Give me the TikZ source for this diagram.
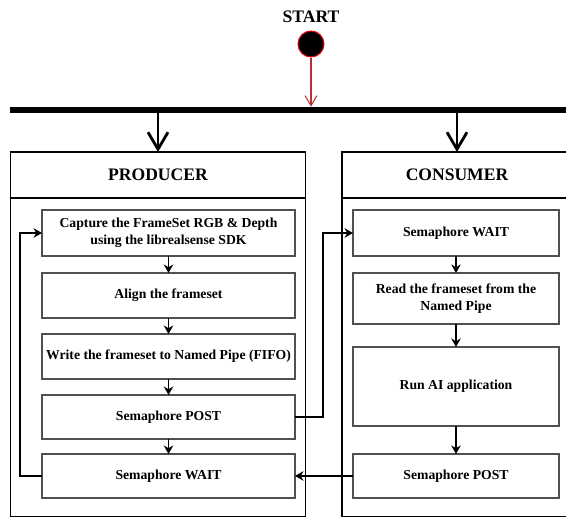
\documentclass[tikz,border=0pt]{standalone}
\usepackage{fontspec}
\setmainfont{Liberation Serif}
\usetikzlibrary{arrows.meta,positioning}
\definecolor{boxgray}{HTML}{505050}
\definecolor{startred}{HTML}{E00010}
\definecolor{arrred}{HTML}{B83030}

\begin{document}
\begin{tikzpicture}[
    x=0.02cm, y=-0.02cm,
    stepbox/.style={rectangle, draw=boxgray, line width=0.7pt, fill=white,
                    inner sep=1pt, outer sep=0pt, align=center,
                    font=\fontsize{7.8}{9.4}\selectfont\bfseries},
    pbox/.style={stepbox, minimum width=5.06cm},
    cbox/.style={stepbox, minimum width=4.12cm},
    lanehead/.style={rectangle, draw=black, line width=0.6pt, outer sep=0pt,
                     minimum height=0.92cm,
                     font=\fontsize{10}{12}\selectfont\bfseries},
    lanebody/.style={rectangle, draw=black, line width=0.6pt, outer sep=0pt},
    bar/.style={rectangle, fill=black, inner sep=0pt,
                minimum width=11.2cm, minimum height=0.12cm},
    startdot/.style={circle, fill=black, draw=startred, line width=0.6pt,
                     inner sep=0pt, minimum size=0.52cm},
    arr/.style={-{Stealth[length=1.7mm, width=1.9mm]}, line width=0.7pt, black},
    bararr/.style={-{Straight Barb[length=3.4mm, width=4mm]}, line width=1.6pt},
    startarr/.style={-{Straight Barb[length=2mm, width=2.4mm]}, line width=0.6pt, arrred}
]
\useasboundingbox (0,0) rectangle (566,518);

% start and fork bar
\node[font=\fontsize{10}{12}\selectfont\bfseries] (starttxt) at (311,17) {START};
\node[startdot] (start) at (311,44) {};
\node[bar] (bar) at (290,110) {};

% lanes
\node[lanehead, minimum width=5.92cm] (phead) at (158,175) {PRODUCER};
\node[lanebody, minimum width=5.92cm, minimum height=6.38cm, below=0pt of phead] (pbody) {};
\node[lanehead, minimum width=4.6cm] (chead) at (457,175) {CONSUMER};
\node[lanebody, minimum width=4.6cm, minimum height=6.38cm, below=0pt of chead] (cbody) {};

% producer steps
\node[pbox, minimum height=0.92cm] (capture) at (168.5,233)
    {Capture the FrameSet RGB \& Depth\\using the librealsense SDK};
\node[pbox, minimum height=0.9cm, below=0.34cm of capture] (align) {Align the frameset};
\node[pbox, minimum height=0.9cm, below=0.32cm of align] (write) {Write the frameset to Named Pipe (FIFO)};
\node[pbox, minimum height=0.88cm, below=0.32cm of write] (ppost) {Semaphore POST};
\node[pbox, minimum height=0.88cm, below=0.3cm of ppost] (pwait) {Semaphore WAIT};

% consumer steps
\node[cbox, minimum height=0.92cm] (cwait) at (456,233) {Semaphore WAIT};
\node[cbox, minimum height=1.02cm, below=0.34cm of cwait] (cread)
    {Read the frameset from the\\Named Pipe};
\node[cbox, minimum height=1.58cm, below=0.46cm of cread] (crun) {Run AI application};
\node[cbox, minimum height=0.88cm, below=0.56cm of crun] (cpost) {Semaphore POST};

\coordinate (gapx) at (323,0);
\coordinate (loopx) at (20,0);

\draw[startarr] (start.south) -- (start.south |- bar.north);
\draw[bararr] (bar.south -| phead.north) -- (phead.north);
\draw[bararr] (bar.south -| chead.north) -- (chead.north);

\draw[arr] (capture) -- (align);
\draw[arr] (align) -- (write);
\draw[arr] (write) -- (ppost);
\draw[arr] (ppost) -- (pwait);
\draw[arr] (cwait) -- (cread);
\draw[arr] (cread) -- (crun);
\draw[arr] (crun) -- (cpost);

\draw[arr] (ppost.east) -- (ppost.east -| gapx) |- (cwait.west);
\draw[arr] (cpost.west) -- (pwait.east);
\draw[arr] (pwait.west) -- (pwait.west -| loopx) |- (capture.west);

\end{tikzpicture}
\end{document}
